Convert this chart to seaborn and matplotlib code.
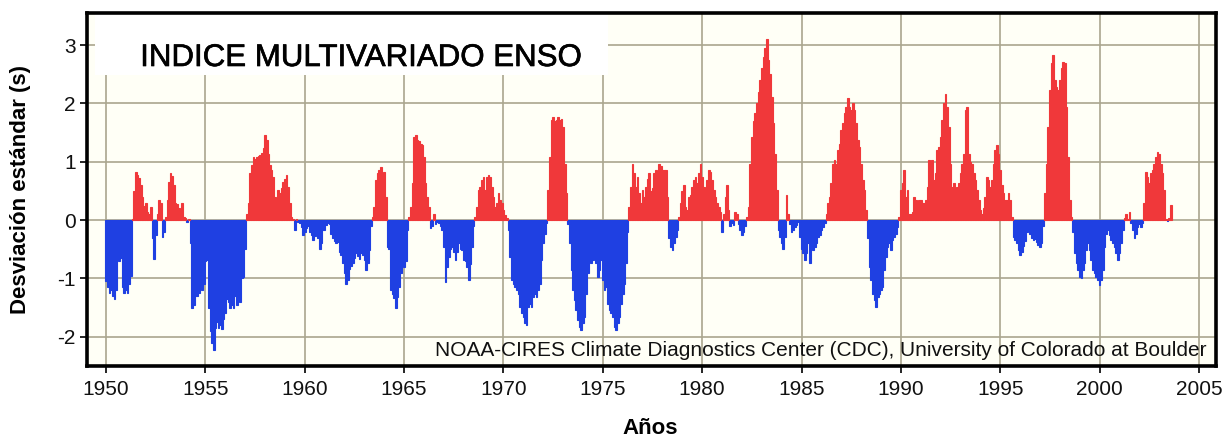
import numpy as np
import pandas as pd
import matplotlib
matplotlib.use("Agg")
import matplotlib.pyplot as plt
import matplotlib.patheffects as pe
import seaborn as sns
from matplotlib.patches import Rectangle

# Bimonthly MEI values (12 per year, starting Jan 1950)
mei_1950s = [
    -1.05, -1.15, -1.25, -1.20, -1.30, -1.35, -1.20, -0.65, -0.70, -0.65, -1.15, -1.25,
    -1.20, -1.25, -1.10, -0.95, 0.02, 0.50, 0.83, 0.78, 0.72, 0.60, 0.40, 0.25,
    0.30, 0.14, 0.10, 0.23, -0.31, -0.66, -0.25, 0.10, 0.34, 0.30, -0.29, -0.20,
    0.05, 0.35, 0.65, 0.80, 0.75, 0.60, 0.30, 0.28, 0.20, 0.09, 0.29, 0.06,
    0.03, -0.03, 0.02, -0.40, -1.50, -1.45, -1.30, -1.30, -1.25, -1.15, -1.20, -1.10,
    -0.70, -0.68, -1.50, -1.90, -2.10, -2.23, -1.85, -1.75, -1.85, -1.80, -1.86, -1.70,
    -1.60, -1.35, -1.40, -1.50, -1.45, -1.50, -1.30, -1.45, -1.25, -1.40, -1.00, -0.97,
    -0.50, 0.10, 0.29, 0.80, 0.95, 1.09, 1.05, 1.09, 1.10, 1.11, 1.15, 1.23,
    1.46, 1.37, 1.14, 0.95, 0.86, 0.74, 0.40, 0.29, 0.51, 0.46, 0.55, 0.66,
    0.70, 0.77, 0.57, 0.30, 0.05, 0.02, -0.17, 0.02, -0.03, -0.05, -0.12, -0.26,
]
mei_1960s = [
    -0.20, -0.14, -0.10, -0.20, -0.26, -0.34, -0.28, -0.26, -0.30, -0.49, -0.40, -0.17,
    -0.17, -0.08, -0.05, -0.06, -0.23, -0.30, -0.35, -0.40, -0.38, -0.54, -0.60, -0.74,
    -0.90, -1.09, -1.03, -0.83, -0.78, -0.74, -0.65, -0.57, -0.62, -0.66, -0.57, -0.60,
    -0.69, -0.86, -0.74, -0.51, -0.10, 0.05, 0.23, 0.69, 0.80, 0.86, 0.91, 0.74,
    0.83, 0.40, -0.46, -0.50, -1.20, -1.26, -1.34, -1.51, -1.31, -1.14, -0.90, -0.75,
    -0.80, -0.70, -0.17, 0.05, 0.23, 0.63, 1.43, 1.46, 1.37, 1.35, 1.31, 1.29,
    1.09, 0.63, 0.40, 0.23, -0.14, -0.10, 0.11, -0.06, -0.03, -0.05, -0.10, -0.17,
    -0.46, -1.06, -0.80, -0.63, -0.50, -0.46, -0.55, -0.69, -0.55, -0.40, -0.50, -0.51,
    -0.69, -0.70, -0.80, -1.03, -0.75, -0.46, -0.10, 0.05, 0.23, 0.51, 0.57, 0.69,
    0.74, 0.51, 0.74, 0.77, 0.74, 0.57, 0.40, 0.23, 0.29, 0.46, 0.34, 0.29,
]
mei_1970s = [
    0.17, 0.09, 0.03, -0.17, -0.63, -1.03, -1.09, -1.14, -1.20, -1.26, -1.49, -1.60,
    -1.66, -1.77, -1.80, -1.49, -1.43, -1.49, -1.31, -1.26, -1.31, -1.20, -1.09, -0.69,
    -0.40, -0.23, -0.05, 0.51, 1.09, 1.71, 1.77, 1.70, 1.71, 1.77, 1.71, 1.74,
    1.60, 0.97, 0.46, -0.06, -0.40, -0.86, -1.20, -1.37, -1.54, -1.71, -1.83, -1.89,
    -1.77, -1.66, -1.26, -0.91, -0.69, -0.74, -0.69, -0.63, -0.74, -0.97, -0.86, -0.69,
    -1.03, -1.20, -1.14, -1.43, -1.54, -1.60, -1.66, -1.83, -1.89, -1.77, -1.66, -1.43,
    -1.26, -1.09, -0.74, -0.20, 0.23, 0.57, 0.97, 0.80, 0.57, 0.74, 0.46, 0.29,
    0.51, 0.40, 0.57, 0.70, 0.80, 0.50, 0.55, 0.80, 0.86, 0.80, 0.97, 0.92,
    0.86, 0.86, 0.86, 0.40, -0.30, -0.46, -0.51, -0.40, -0.29, -0.17, 0.05, 0.30,
    0.50, 0.60, 0.23, 0.17, 0.40, 0.43, 0.57, 0.69, 0.74, 0.63, 0.80, 0.97,
]
mei_1980s = [
    0.74, 0.57, 0.51, 0.69, 0.86, 0.83, 0.69, 0.51, 0.40, 0.29, 0.23, 0.14,
    -0.20, 0.11, 0.40, 0.60, 0.17, -0.10, -0.05, -0.08, 0.14, 0.11, -0.06, -0.17,
    -0.26, -0.20, -0.10, 0.05, 0.23, 0.97, 1.43, 1.70, 1.83, 2.00, 2.20, 2.40,
    2.60, 2.80, 2.95, 3.11, 2.74, 2.51, 2.11, 1.66, 1.14, 0.51, -0.17, -0.29,
    -0.40, -0.49, -0.29, 0.43, 0.11, -0.06, -0.20, -0.17, -0.11, -0.09, -0.03, -0.29,
    -0.50, -0.56, -0.69, -0.57, -0.40, -0.74, -0.34, -0.51, -0.46, -0.40, -0.29, -0.26,
    -0.17, -0.11, -0.05, 0.10, 0.29, 0.40, 0.63, 0.97, 1.03, 0.97, 1.20, 1.31,
    1.54, 1.66, 1.83, 1.94, 2.09, 1.94, 1.89, 2.00, 1.89, 1.66, 1.37, 1.26,
    0.97, 0.69, 0.51, 0.17, -0.30, -0.80, -1.03, -1.26, -1.37, -1.49, -1.31, -1.26,
    -1.20, -1.14, -0.86, -0.63, -0.46, -0.40, -0.51, -0.34, -0.29, -0.23, -0.11, 0.05,
]
mei_1990s = [
    0.51, 0.63, 0.86, 0.40, 0.51, 0.11, 0.11, 0.14, 0.40, 0.34, 0.31, 0.34,
    0.34, 0.29, 0.29, 0.34, 0.57, 1.03, 0.97, 1.03, 0.69, 0.80, 1.20, 1.26,
    1.43, 1.71, 2.00, 2.17, 1.94, 1.60, 0.97, 0.57, 0.63, 0.51, 0.57, 0.63,
    0.80, 0.97, 1.14, 1.89, 1.94, 1.14, 1.00, 0.97, 0.80, 0.69, 0.51, 0.34,
    0.17, 0.11, 0.20, 0.40, 0.74, 0.69, 0.57, 0.69, 0.97, 1.20, 1.29, 1.14,
    0.86, 0.60, 0.46, 0.34, 0.34, 0.46, 0.34, 0.05, -0.29, -0.34, -0.40, -0.51,
    -0.60, -0.55, -0.45, -0.35, -0.20, -0.15, -0.23, -0.30, -0.34, -0.32, -0.37, -0.43,
    -0.46, -0.40, -0.10, 0.46, 0.97, 1.60, 2.23, 2.69, 2.83, 2.40, 2.29, 2.23,
    2.40, 2.60, 2.71, 2.69, 1.94, 1.09, 0.34, 0.05, -0.20, -0.57, -0.74, -0.86,
    -0.97, -1.00, -0.86, -0.74, -0.51, -0.40, -0.51, -0.69, -0.86, -0.91, -0.97, -1.03,
]
mei_2000s = [
    -1.11, -1.03, -0.86, -0.46, -0.23, -0.17, -0.26, -0.34, -0.40, -0.46, -0.57, -0.69,
    -0.57, -0.40, -0.17, 0.03, 0.11, 0.02, 0.14, -0.05, -0.17, -0.31, -0.23, -0.11,
    -0.06, -0.11, -0.05, 0.29, 0.83, 0.74, 0.63, 0.80, 0.86, 0.97, 1.09, 1.17,
    1.14, 0.97, 0.80, 0.51, 0.02, -0.02, 0.03, 0.26,
]
start_year = 1950
x_ticks = [1950, 1955, 1960, 1965, 1970, 1975, 1980, 1985, 1990, 1995, 2000, 2005]
y_ticks = [-2, -1, 0, 1, 2, 3]
title_text = "INDICE MULTIVARIADO ENSO"
credit_text = "NOAA-CIRES Climate Diagnostics Center (CDC), University of Colorado at Boulder"
x_label = "Años"
y_label = "Desviación estándar (s)"

RED = "#f0383a"
BLUE = "#1f40e2"

values = np.array(mei_1950s + mei_1960s + mei_1970s + mei_1980s + mei_1990s + mei_2000s)
t = np.round(start_year + np.arange(len(values)) / 12.0, 4)
df = pd.DataFrame({"t": t, "mei": values})
df["fase"] = np.where(df["mei"] >= 0, "pos", "neg")

sns.set_theme(style="white")
plt.rcParams["font.family"] = ["Liberation Sans", "DejaVu Sans"]
plt.rcParams["axes.unicode_minus"] = False

W, H = 1229, 441
fig = plt.figure(figsize=(W / 100, H / 100), dpi=100)
fig.patch.set_facecolor("white")
ax = fig.add_axes([87 / W, (H - 366) / H, 1129 / W, 353 / H])
ax.set_facecolor("#fffff6")

sns.barplot(data=df, x="t", y="mei", hue="fase",
            palette={"pos": RED, "neg": BLUE}, native_scale=True,
            width=1.0, dodge=False, errorbar=None, legend=False,
            saturation=1, linewidth=0, ax=ax)
for p in ax.patches:
    p.set_edgecolor(p.get_facecolor())
    p.set_linewidth(0.8)
    p.set_zorder(2)

ax.set_xlim(1949.04, 2005.86)
ax.set_ylim(-2.5, 3.55)
ax.set_xticks(x_ticks)
ax.set_xticklabels([str(v) for v in x_ticks])
ax.set_yticks(y_ticks)
ax.set_yticklabels([str(v) for v in y_ticks])
ax.set_xlabel("")
ax.set_ylabel("")

ax.grid(True, color="#aaa68e", linewidth=1.2)
ax.set_axisbelow(True)
for s in ax.spines.values():
    s.set_visible(True)
    s.set_color("black")
    s.set_linewidth(2.6)
    s.set_zorder(5)

ax.tick_params(axis="x", which="major", direction="out", length=5, width=1.2,
               color="black", pad=5, labelsize=15, labelcolor="#111111", bottom=True)
ax.tick_params(axis="y", which="major", direction="out", length=5, width=1.2,
               color="black", pad=3, labelsize=15, labelcolor="#111111", left=True)

# white box behind the title
ax.add_patch(Rectangle((0.007, 0.824), 0.4545, 0.173, transform=ax.transAxes,
                       facecolor="white", edgecolor="none", zorder=1.5))
ax.text(0.2427, 0.8725, title_text, transform=ax.transAxes, ha="center", va="center",
        fontsize=22.5, color="black", zorder=3,
        path_effects=[pe.withStroke(linewidth=0.45, foreground="black")])
ax.text(0.992, 0.0425, credit_text, transform=ax.transAxes, ha="right", va="center",
        fontsize=15, color="#111111", zorder=3)

fig.text(650 / W, 1 - 428 / H, x_label, ha="center", va="center",
         fontsize=16, fontweight="bold", color="black")
fig.text(21 / W, 1 - 189 / H, y_label, ha="center", va="center", rotation=90,
         fontsize=16, fontweight="bold", color="black")

fig.savefig("out.png", dpi=100, facecolor="white")
